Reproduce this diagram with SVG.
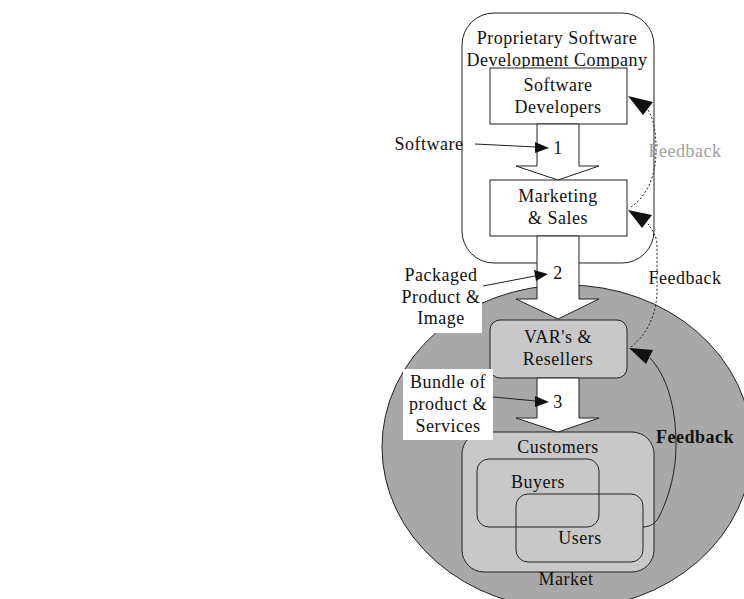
<svg xmlns="http://www.w3.org/2000/svg" width="744" height="599" viewBox="0 0 744 599">
  <style>
    text { font-family: "Liberation Serif", "Times New Roman", serif; font-size: 18px; letter-spacing: 0.5px; fill: #111; text-anchor: middle; }
    .box { fill: #fff; stroke: #222; stroke-width: 1; }
    .grey { fill: #c8c8c8; stroke: #222; stroke-width: 1; }
    .outline { fill: none; stroke: #222; stroke-width: 1; }
    .flow { fill: #fff; stroke: #222; stroke-width: 1; }
    .lead { fill: none; stroke: #222; stroke-width: 1; }
    .dot { fill: none; stroke: #222; stroke-width: 1; stroke-dasharray: 2 2; }
    .head { fill: #111; stroke: none; }
  </style>
  <rect width="744" height="599" fill="#fff"/>

  <!-- market -->
  <g id="market">
    <ellipse cx="567" cy="447" rx="185" ry="162" fill="#a8a8a8" stroke="#222" stroke-width="1"/>
    <text x="566" y="585">Market</text>
  </g>

  <!-- company -->
  <g id="company">
    <rect class="box" x="462" y="13" width="192" height="250" rx="32"/>
    <text x="557" y="44">Proprietary Software</text>
    <text x="557" y="66">Development Company</text>
  </g>

  <g id="developers">
    <rect class="box" x="490" y="68" width="137" height="56"/>
    <text x="558" y="91">Software</text>
    <text x="558" y="113">Developers</text>
  </g>

  <g id="marketing">
    <rect class="box" x="490" y="180" width="137" height="56"/>
    <text x="558" y="202">Marketing</text>
    <text x="558" y="224">&amp; Sales</text>
  </g>

  <g id="resellers">
    <rect class="grey" x="490" y="320" width="137" height="58" rx="10"/>
    <text x="558" y="343">VAR's &amp;</text>
    <text x="558" y="365">Resellers</text>
  </g>

  <g id="customers">
    <rect class="grey" x="462" y="432" width="192" height="140" rx="22"/>
    <text x="558" y="453">Customers</text>
  </g>

  <g id="buyers">
    <rect class="outline" x="477" y="459" width="122" height="68" rx="12"/>
    <text x="538" y="488">Buyers</text>
  </g>

  <g id="users">
    <rect class="outline" x="516" y="494" width="127" height="68" rx="12"/>
    <text x="580" y="544">Users</text>
  </g>

  <!-- label panels -->
  <g id="packaged-label">
    <rect x="398" y="262" width="84" height="71" fill="#fff"/>
    <text x="441" y="281">Packaged</text>
    <text x="441" y="303">Product &amp;</text>
    <text x="441" y="324">Image</text>
  </g>

  <g id="bundle-label">
    <rect x="403" y="369" width="90" height="71" fill="#fff"/>
    <text x="448" y="388">Bundle of</text>
    <text x="448" y="410">product &amp;</text>
    <text x="448" y="432">Services</text>
  </g>

  <g id="software-label">
    <text x="429" y="150">Software</text>
  </g>

  <!-- connectors -->
  <g id="connectors">
    <!-- hollow flow arrows -->
    <polygon class="flow" points="537,124 579,124 579,166 599,166 558,180 516,166 537,166"/>
    <polygon class="flow" points="537,236 579,236 579,299 599,299 558,319 516,299 537,299"/>
    <polygon class="flow" points="537,378 579,378 579,418 599,418 558,432 516,418 537,418"/>

    <!-- step numbers -->
    <text x="558" y="154">1</text>
    <text x="558" y="279">2</text>
    <text x="558" y="408">3</text>

    <!-- leader lines -->
    <path class="lead" d="M475,144 L536,147"/>
    <polygon class="head" points="549,148 535,142 535,153"/>
    <path class="lead" d="M483,286 L535,276"/>
    <polygon class="head" points="548,274 534,270 536,281"/>
    <path class="lead" d="M493,397 L536,401"/>
    <polygon class="head" points="549,402 535,396 535,407"/>

    <!-- feedback loops -->
    <path class="dot" d="M631,207 C648,195 656,175 656,150 C656,132 654,120 648,110"/>
    <polygon class="head" points="628,96 653,102 643,115"/>
    <path class="dot" d="M631,347 C650,332 657,310 657,290 L657,245 C657,238 654,232 648,224"/>
    <polygon class="head" points="628,210 652,215 642,228"/>
    <path class="lead" d="M643,527 C650,527 656,523 659,517 C670,495 676,470 676,445 C676,405 666,375 650,358"/>
    <polygon class="head" points="629,348 653,350 646,364"/>

    <text x="685" y="157" style="fill:#a0a0a0">Feedback</text>
    <text x="685" y="284">Feedback</text>
    <text x="695" y="443" style="font-weight:bold">Feedback</text>
  </g>
</svg>
